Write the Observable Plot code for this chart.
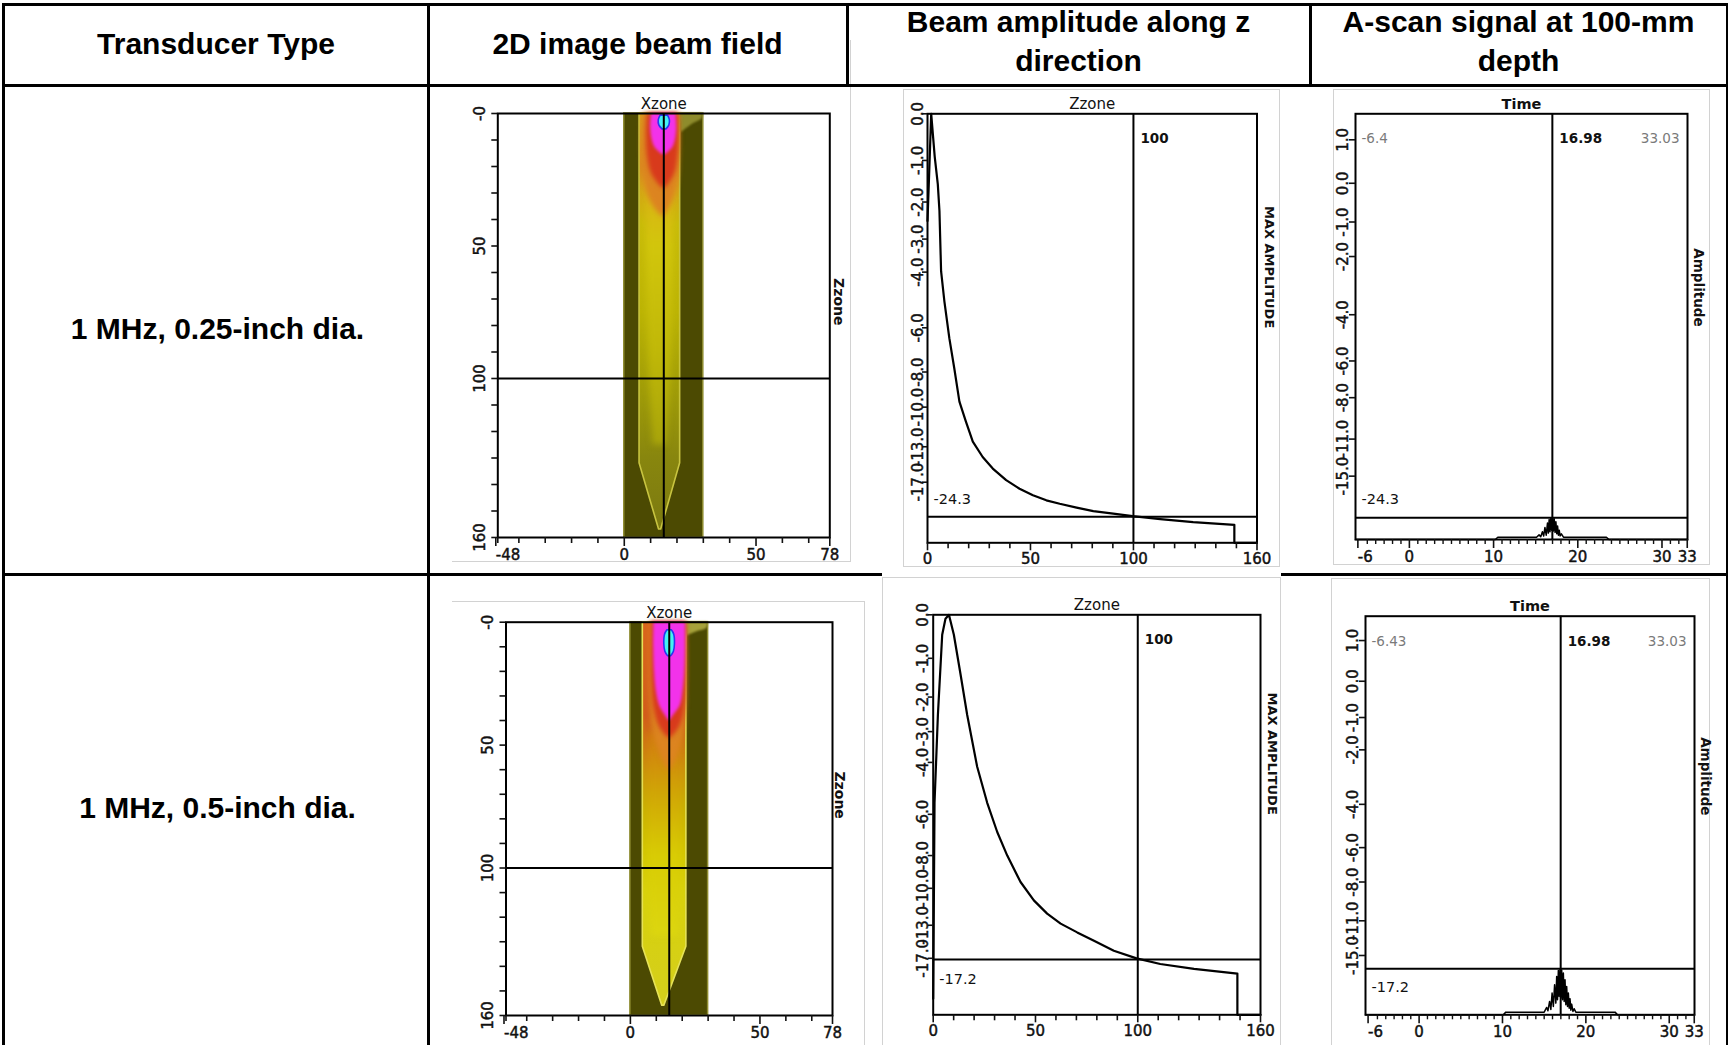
<!DOCTYPE html>
<html>
<head>
<meta charset="utf-8">
<script src="https://cdn.jsdelivr.net/npm/d3@7"></script>
<script src="https://cdn.jsdelivr.net/npm/@observablehq/plot@0.6"></script>
<style>
  html, body { margin: 0; padding: 0; background: #fff; }
  #page { position: relative; width: 1730px; height: 1045px; overflow: hidden; background: #fff; }
  .cell { position: absolute; display: flex; flex-direction: column; align-items: center; justify-content: center;
          font-family: "Liberation Sans", Arial, sans-serif; font-weight: bold; font-size: 30px; line-height: 38.5px;
          color: #000; text-align: center; white-space: nowrap; }
  .rule { position: absolute; background: #000; }
  .shot { position: absolute; background: #fff; box-sizing: border-box; border-style: solid; border-color: #d2d2d2; }
  svg.chart { position: absolute; overflow: visible; }
  svg.chart g[aria-label$="tick label"] { stroke: #111; stroke-width: 0.45px; }
</style>
</head>
<body>
<div id="page"></div>
<script>
// ---------------- table text ----------------
const headerLines = [["Transducer Type"], ["2D image beam field"], ["Beam amplitude along z", "direction"], ["A-scan signal at 100-mm", "depth"]];
const rowLabels = ["1 MHz, 0.25-inch dia.", "1 MHz, 0.5-inch dia."];

// ---------------- 2D beam field (Xzone x Zzone) ----------------
const fieldXFirst = [-48];
const fieldXTicks = [0, 50, 78];
const fieldXMinor = [-48, -40, -30, -20, -10, 10, 20, 30, 40, 60, 70];
const fieldZTicks = [0, 50, 100, 160];
const fieldZLabels = ["-0", "50", "100", "160"];
const fieldZMinor = [10, 20, 30, 40, 60, 70, 80, 90, 110, 120, 130, 140, 150];
const simZone = [{x1: 0, x2: 30, z1: 0, z2: 160}];
const fieldCursorX = 15, fieldCursorZ = 100;

// row 1 (0.25-inch): contour profiles {z, a: left x, b: right x}
const band1 = [{z: 0, a: 5.8, b: 21.2}, {z: 132, a: 5.8, b: 21.2}, {z: 157, a: 13.2, b: 14.0}];
const band1Colors = [[0, "#d8a01a"], [20, "#da8a1e"], [30, "#d4a814"], [42, "#c9bc08"], [75, "#bcb404"], [105, "#a09c08"], [130, "#88860e"], [157, "#7c7a10"]];
const core1 = [{z: 24, a: 8.5, b: 18.5}, {z: 60, a: 8.5, b: 18.5}, {z: 100, a: 9.5, b: 17.5}, {z: 125, a: 11, b: 16}];
const core1Colors = [[24, "#dcae18"], [50, "#d2c60c"], [90, "#c0b808"], [125, "#a8a40a"]];
const lobe1 = [{z: 0, a: 21, b: 30}, {z: 2, a: 21, b: 29.5}, {z: 4, a: 21.3, b: 26}, {z: 7, a: 21.3, b: 22}];
const glow1 = [{z: 0, a: 7, b: 21}, {z: 16, a: 6.8, b: 21}, {z: 28, a: 8, b: 20}, {z: 35, a: 11, b: 17.5}, {z: 39, a: 14.5, b: 15}];
const halo1 = [{z: 0, a: 8.8, b: 20.6}, {z: 8, a: 8.4, b: 20.8}, {z: 16, a: 8.8, b: 20.4}, {z: 23, a: 10.5, b: 19}, {z: 28, a: 14.2, b: 15.8}];
const magenta1 = [{z: 0, a: 10.4, b: 19.6}, {z: 5, a: 10, b: 19.9}, {z: 10, a: 10.6, b: 19.4}, {z: 13, a: 11.8, b: 18.3}, {z: 15.5, a: 14.5, b: 15.6}];
const cyan1 = [{z: 0.8, a: 13.8, b: 16.6}, {z: 2.5, a: 13.1, b: 17.3}, {z: 4.5, a: 13.3, b: 17.1}, {z: 6, a: 14.5, b: 16}];

// row 2 (0.5-inch)
const band2 = [{z: 0, a: 4.8, b: 21.6}, {z: 132, a: 4.8, b: 21.6}, {z: 156, a: 12.3, b: 13.1}];
const band2Colors = [[0, "#d8641c"], [38, "#d25c1a"], [50, "#ce7812"], [62, "#ca960a"], [76, "#cab002"], [92, "#d2c400"], [110, "#d8d20c"], [156, "#d4ce1c"]];
const core2 = [{z: 45, a: 7, b: 19.5}, {z: 100, a: 7, b: 19.5}, {z: 128, a: 8, b: 18.5}];
const core2Colors = [[45, "#d27a10"], [70, "#d0a606"], [95, "#d8cc04"], [128, "#dcd610"]];
const lobe2 = [{z: 0, a: 21, b: 30}, {z: 2.5, a: 21.2, b: 29.5}, {z: 4, a: 21.5, b: 25.5}, {z: 5.5, a: 21.6, b: 22}];
const glow2 = [{z: 0, a: 7.5, b: 21.6}, {z: 30, a: 7.5, b: 21.6}, {z: 45, a: 9, b: 20.5}, {z: 55, a: 12, b: 18}, {z: 60, a: 14.5, b: 15.5}];
const halo2 = [{z: 0, a: 8.3, b: 21.6}, {z: 25, a: 8.3, b: 21.5}, {z: 36, a: 9.3, b: 20.8}, {z: 43, a: 11.5, b: 18.8}, {z: 47, a: 14.5, b: 15.6}];
const magenta2 = [{z: 0, a: 9.1, b: 21.3}, {z: 10, a: 9, b: 21.3}, {z: 20, a: 9.3, b: 21}, {z: 28, a: 10, b: 20.3}, {z: 34, a: 11.3, b: 19.2}, {z: 38, a: 13.5, b: 16.6}, {z: 40, a: 14.8, b: 15.3}];
const cyan2 = [{z: 3.3, a: 14.3, b: 16}, {z: 5, a: 13.4, b: 16.9}, {z: 9, a: 13.1, b: 17.2}, {z: 12, a: 13.5, b: 16.8}, {z: 13.8, a: 14.5, b: 15.8}];

// ---------------- beam amplitude along z (MAX AMPLITUDE vs Zzone) ----------------
const ampTicksDb = [0, -1, -2, -3, -4, -6, -8, -10, -13, -17];
const beamZTicks = [0, 50, 100, 160];
const beamZMinor = [10, 20, 30, 40, 60, 70, 80, 90, 110, 120, 130, 140, 150];
const beamCursorZ = 100;
const amp1 = [[0, 0.75], [0.8, 0.86], [1.8, 1.0], [3.5, 0.9], [5, 0.836], [5.8, 0.774], [6.6, 0.633], [8.2, 0.563], [10.6, 0.477], [13, 0.407], [15.5, 0.329], [18.7, 0.282], [22, 0.236], [26.8, 0.2], [31.7, 0.173], [38.2, 0.146], [44.7, 0.126], [51.2, 0.111], [57.7, 0.099], [64.2, 0.091], [72.4, 0.082], [80.5, 0.074], [90.2, 0.068], [99.6, 0.062], [113, 0.055], [129, 0.048], [149, 0.042], [149, 0], [160, 0]];
const amp2 = [[0, 0.04], [0.65, 0.53], [2.3, 0.75], [4.4, 0.95], [6, 0.99], [7.7, 1.0], [10.1, 0.95], [13.4, 0.85], [16.6, 0.75], [21.5, 0.62], [26.4, 0.53], [31.3, 0.457], [36.2, 0.398], [42.7, 0.332], [49.2, 0.286], [55.7, 0.253], [62.3, 0.228], [70.4, 0.206], [78.6, 0.185], [88.3, 0.16], [99.4, 0.141], [111, 0.127], [127.5, 0.115], [148.7, 0.103], [148.7, 0], [160, 0]];
const beamLevelDb = [-24.3, -17.2];
const beamLevelLabels = ["-24.3", "-17.2"];

// ---------------- A-scan (Amplitude vs Time) ----------------
const scanTicksDb = [1, 0, -1, -2, -4, -6, -8, -11, -15];
const timeFirst = [-6];
const timeTicks = [0, 10, 20, 30, 33];
const timeMinor = [-5, -4, -3, -2, -1, 1, 2, 3, 4, 5, 6, 7, 8, 9, 11, 12, 13, 14, 15, 16, 17, 18, 19, 21, 22, 23, 24, 25, 26, 27, 28, 29, 31, 32];
const scanDomains = [[-6.4, 33.03], [-6.43, 33.03]];
const scanCursorT = 16.98;
const scanCornerLabels = [["-6.4", "16.98", "33.03"], ["-6.43", "16.98", "33.03"]];
const scanAmpMax = 1.195;
const scan1 = [[-6.4, 0], [10.2, 0], [10.5, 0.0065], [15.1, 0.0065], [15.4, 0.013], [15.6, 0.008], [15.8, 0.022], [15.95, 0.01], [16.1, 0.034], [16.25, 0.012], [16.4, 0.046], [16.5, 0.018], [16.6, 0.056], [16.7, 0.022], [16.8, 0.061], [16.9, 0.026], [17.0, 0.06], [17.1, 0.024], [17.2, 0.058], [17.3, 0.02], [17.4, 0.05], [17.5, 0.016], [17.6, 0.038], [17.7, 0.012], [17.8, 0.026], [17.9, 0.01], [18.05, 0.016], [18.3, 0.0065], [23.4, 0.0065], [23.7, 0], [33.03, 0]];
const scan2 = [[-6.43, 0], [10.1, 0], [10.4, 0.008], [15.0, 0.008], [15.3, 0.022], [15.45, 0.012], [15.65, 0.04], [15.8, 0.016], [15.95, 0.065], [16.1, 0.025], [16.25, 0.09], [16.4, 0.035], [16.5, 0.115], [16.6, 0.045], [16.7, 0.133], [16.8, 0.055], [16.9, 0.136], [17.0, 0.05], [17.1, 0.134], [17.2, 0.045], [17.3, 0.125], [17.4, 0.04], [17.5, 0.105], [17.6, 0.03], [17.7, 0.085], [17.8, 0.025], [17.9, 0.065], [18.0, 0.02], [18.1, 0.048], [18.2, 0.014], [18.3, 0.032], [18.45, 0.01], [18.6, 0.018], [18.8, 0.008], [23.5, 0.008], [23.8, 0], [33.03, 0]];

// ---------------- layout (page pixels) ----------------
const tableRules = [
  [2, 3, 1726, 3], [2, 3, 3, 1042], [1725.5, 3, 2.5, 1042],
  [2, 84, 1726, 2.5], [427, 3, 2.5, 1042], [846, 3, 2.5, 83], [1309, 3, 2.5, 83],
  [2, 573, 880, 2.5], [1281, 573, 447, 2.5]
];
const shots = [
  {l: 452, t: 40, w: 399, h: 522, b: "0 1px 1px 0"},
  {l: 903, t: 89, w: 377, h: 478, b: "1px"},
  {l: 1333, t: 89, w: 377, h: 476, b: "1px"},
  {l: 452, t: 601, w: 413, h: 500, b: "1px 1px 0 0"},
  {l: 882, t: 577, w: 399, h: 500, b: "1px 1px 0 1px"},
  {l: 1331, t: 578, w: 379, h: 500, b: "1px 1px 0 1px"}
];
const headerCells = [{l: 5, r: 427, cy: 44}, {l: 429, r: 846, cy: 44}, {l: 848, r: 1309, cy: 41.5}, {l: 1311, r: 1726, cy: 41.5}];
const rowCells = [{l: 5, r: 430, cy: 329}, {l: 5, r: 430, cy: 808}];
const chartBoxes = {
  field1: {box: {left: 450, top: 86, width: 400, height: 486}, frame: [497.3, 113, 829.3, 537]},
  amp1: {box: {left: 880, top: 86, width: 400, height: 486}, frame: [927, 113.3, 1256.5, 542.3]},
  scan1: {box: {left: 1310, top: 86, width: 417, height: 486}, frame: [1355, 113.3, 1687, 539]},
  field2: {box: {left: 450, top: 586, width: 415, height: 459}, frame: [505.5, 621.7, 832, 1015]},
  amp2: {box: {left: 880, top: 586, width: 405, height: 459}, frame: [932.7, 614.3, 1260, 1014.3]},
  scan2: {box: {left: 1310, top: 586, width: 417, height: 459}, frame: [1365, 615.7, 1694, 1014.3]}
};

// ---------------- helpers ----------------
const page = document.getElementById("page");
const dbToAmp = db => Math.pow(10, db / 20);
const ampToDbLabel = a => (20 * Math.log10(a)).toFixed(1).replace("-0.0", "0.0");
const baseStyle = {fontFamily: "DejaVu Sans, Verdana, sans-serif", fontSize: "15px", color: "#111", background: "transparent", overflow: "visible"};

function div(cls, style, html) {
  const d = document.createElement("div");
  d.className = cls;
  Object.assign(d.style, style);
  if (html !== undefined) d.innerHTML = html;
  page.appendChild(d);
  return d;
}
function dims(c) {
  const {box, frame} = c;
  return {width: box.width, height: box.height,
    marginLeft: frame[0] - box.left, marginTop: frame[1] - box.top,
    marginRight: box.left + box.width - frame[2], marginBottom: box.top + box.height - frame[3]};
}
function place(svg, c) {
  svg.classList.add("chart");
  svg.style.left = c.box.left + "px";
  svg.style.top = c.box.top + "px";
  page.appendChild(svg);
}
function addGradient(svg, id, stops, z0, z1) {
  let defs = svg.querySelector("defs");
  if (!defs) defs = d3.select(svg).insert("defs", ":first-child").node();
  const g = d3.select(defs).append("linearGradient").attr("id", id).attr("x1", 0).attr("y1", 0).attr("x2", 0).attr("y2", 1);
  for (const [z, c] of stops) g.append("stop").attr("offset", (z - z0) / (z1 - z0)).attr("stop-color", c);
}

// ---------------- table ----------------
for (const s of shots) div("shot", {left: s.l + "px", top: s.t + "px", width: s.w + "px", height: s.h + "px", borderWidth: s.b});
for (const [l, t, w, h] of tableRules) div("rule", {left: l + "px", top: t + "px", width: w + "px", height: h + "px"});
headerCells.forEach((c, i) => div("cell", {left: c.l + "px", width: (c.r - c.l) + "px", top: (c.cy - 40) + "px", height: "80px"},
  headerLines[i].map(t => `<span>${t}</span>`).join("")));
rowCells.forEach((c, i) => div("cell", {left: c.l + "px", width: (c.r - c.l) + "px", top: (c.cy - 40) + "px", height: "80px"},
  `<span>${rowLabels[i]}</span>`));

// ---------------- charts ----------------
function fieldChart(id, c, f) {
  const A = {y: "z", x1: "a", x2: "b"};
  const svg = Plot.plot({
    ...dims(c), style: baseStyle,
    x: {domain: [-48, 78], axis: null},
    y: {domain: [0, 160], reverse: true, axis: null},
    marks: [
      Plot.rect(simZone, {x1: "x1", x2: "x2", y1: "z1", y2: "z2", fill: "#4c4a02", stroke: "#8e8c30", strokeWidth: 1.5}),
      Plot.areaX(f.band, {...A, fill: `url(#${id}-band)`, stroke: f.edge, strokeWidth: 1.6}),
      Plot.areaX(f.core, {...A, fill: `url(#${id}-core)`, curve: "catmull-rom"}),
      Plot.areaX(f.lobe, {...A, fill: f.lobeColor, curve: "catmull-rom"}),
      Plot.areaX(f.glow, {...A, fill: "#dc8420", curve: "catmull-rom"}),
      Plot.areaX(f.halo, {...A, fill: "#d83a1c", curve: "catmull-rom"}),
      Plot.areaX(f.magenta, {...A, fill: "#f232ea", curve: "catmull-rom"}),
      Plot.areaX(f.cyan, {...A, fill: "#44f2f2", stroke: "#2838f0", strokeWidth: 1.6, curve: "catmull-rom"}),
      Plot.ruleX([fieldCursorX], {stroke: "#000", strokeWidth: 2}),
      Plot.ruleY([fieldCursorZ], {stroke: "#000", strokeWidth: 2}),
      Plot.frame({stroke: "#000", strokeWidth: 2}),
      Plot.axisX({ticks: fieldXMinor, tickSize: 6, fill: "none", label: null, strokeWidth: 1.6}),
      Plot.axisX({ticks: fieldXFirst, tickSize: 9, tickPadding: 3, textAnchor: "start", dx: -2, tickFormat: d => String(d), label: null, strokeWidth: 1.6}),
      Plot.axisX({ticks: fieldXTicks, tickSize: 9, tickPadding: 3, tickFormat: d => String(d), label: null, strokeWidth: 1.6}),
      Plot.axisY({ticks: fieldZMinor, tickSize: 6, fill: "none", label: null, strokeWidth: 1.6}),
      Plot.axisY({ticks: fieldZTicks, tickSize: 6, tickPadding: 7, tickRotate: -90, tickFormat: d => fieldZLabels[fieldZTicks.indexOf(d)], label: null, strokeWidth: 1.6}),
      Plot.text(["Xzone"], {text: d => d, frameAnchor: "top", dy: -15, fontSize: 15}),
      Plot.text(["Zzone"], {text: d => d, frameAnchor: "right", dx: f.zLabelDx, rotate: 90, fontSize: 14, fontWeight: "bold"})
    ]
  });
  addGradient(svg, `${id}-band`, f.colors, f.band[0].z, f.band[f.band.length - 1].z);
  addGradient(svg, `${id}-core`, f.coreColors, f.core[0].z, f.core[f.core.length - 1].z);
  const blurs = [0.6, 3, 1, 2.5, 2, 1.5, 0.6];
  svg.querySelectorAll('g[aria-label="area"]').forEach((g, i) => { g.style.filter = `blur(${blurs[i]}px)`; });
  place(svg, c);
}

function ampChart(c, curve, k, dyLevel) {
  const lvl = dbToAmp(beamLevelDb[k]);
  const svg = Plot.plot({
    ...dims(c), style: baseStyle,
    x: {domain: [0, 160], axis: null},
    y: {domain: [0, 1], axis: null},
    marks: [
      Plot.ruleX([beamCursorZ], {stroke: "#000", strokeWidth: 2}),
      Plot.ruleY([lvl], {stroke: "#000", strokeWidth: 2}),
      Plot.line(curve, {x: d => d[0], y: d => d[1], stroke: "#000", strokeWidth: 2.2}),
      Plot.frame({stroke: "#000", strokeWidth: 2}),
      Plot.axisX({ticks: beamZMinor, tickSize: 6, fill: "none", label: null, strokeWidth: 1.6}),
      Plot.axisX({ticks: beamZTicks, tickSize: 8, tickPadding: 3, tickFormat: d => String(d), label: null, strokeWidth: 1.6}),
      Plot.axisY({ticks: ampTicksDb.map(dbToAmp), tickSize: 5, tickPadding: 0, tickRotate: -90, tickFormat: ampToDbLabel, label: null, strokeWidth: 1.6}),
      Plot.text(["Zzone"], {text: d => d, frameAnchor: "top", dy: -15, fontSize: 15}),
      Plot.text(["MAX AMPLITUDE"], {text: d => d, frameAnchor: "right", dx: 12, rotate: 90, fontSize: 13, fontWeight: "bold"}),
      Plot.text([String(beamCursorZ)], {text: d => d, x: beamCursorZ, frameAnchor: "top", dy: 20, dx: 7, textAnchor: "start", fontSize: 13.5, fontWeight: "bold"}),
      Plot.text([beamLevelLabels[k]], {text: d => d, y: lvl, frameAnchor: "left", dx: 6, dy: dyLevel, textAnchor: "start", fontSize: 14.5})
    ]
  });
  place(svg, c);
}

function scanChart(c, wave, k, dyLevel) {
  const lvl = dbToAmp(beamLevelDb[k]);
  const [lbL, lbC, lbR] = scanCornerLabels[k];
  const svg = Plot.plot({
    ...dims(c), style: baseStyle,
    x: {domain: scanDomains[k], axis: null},
    y: {domain: [0, scanAmpMax], axis: null},
    marks: [
      Plot.ruleX([scanCursorT], {stroke: "#000", strokeWidth: 2}),
      Plot.ruleY([lvl], {stroke: "#000", strokeWidth: 2}),
      Plot.line(wave, {x: d => d[0], y: d => d[1], stroke: "#000", strokeWidth: 1.5}),
      Plot.frame({stroke: "#000", strokeWidth: 2}),
      Plot.axisX({ticks: timeMinor, tickSize: 5, fill: "none", label: null, strokeWidth: 1.4}),
      Plot.axisX({ticks: timeFirst, tickSize: 9, tickPadding: 3, textAnchor: "start", dx: -1, tickFormat: d => String(d), label: null, strokeWidth: 1.6}),
      Plot.axisX({ticks: timeTicks, tickSize: 9, tickPadding: 3, tickFormat: d => String(d), label: null, strokeWidth: 1.6}),
      Plot.axisY({ticks: scanTicksDb.map(dbToAmp), tickSize: 6, tickPadding: 2, tickRotate: -90, tickFormat: ampToDbLabel, label: null, strokeWidth: 1.6}),
      Plot.text(["Time"], {text: d => d, frameAnchor: "top", dy: -15, fontSize: 14.5, fontWeight: "bold"}),
      Plot.text(["Amplitude"], {text: d => d, frameAnchor: "right", dx: 11, rotate: 90, fontSize: 13.5, fontWeight: "bold"}),
      Plot.text([lbL], {text: d => d, frameAnchor: "top-left", dx: 6, dy: 20, textAnchor: "start", fontSize: 13.5, fill: "#7a7a7a"}),
      Plot.text([lbC], {text: d => d, x: scanCursorT, frameAnchor: "top", dx: 7, dy: 20, textAnchor: "start", fontSize: 13.5, fontWeight: "bold"}),
      Plot.text([lbR], {text: d => d, frameAnchor: "top-right", dx: -8, dy: 20, textAnchor: "end", fontSize: 13.5, fill: "#7a7a7a"}),
      Plot.text([beamLevelLabels[k]], {text: d => d, y: lvl, frameAnchor: "left", dx: 6, dy: dyLevel, textAnchor: "start", fontSize: 14.5})
    ]
  });
  place(svg, c);
}

fieldChart("f1", chartBoxes.field1, {band: band1, colors: band1Colors, core: core1, coreColors: core1Colors, edge: "#c8c440", lobe: lobe1, lobeColor: "#8e8c2c", glow: glow1, halo: halo1, magenta: magenta1, cyan: cyan1, zLabelDx: 9});
ampChart(chartBoxes.amp1, amp1, 0, -17);
scanChart(chartBoxes.scan1, scan1, 0, -18);
fieldChart("f2", chartBoxes.field2, {band: band2, colors: band2Colors, core: core2, coreColors: core2Colors, edge: "#e6e258", lobe: lobe2, lobeColor: "#a6a23a", glow: glow2, halo: halo2, magenta: magenta2, cyan: cyan2, zLabelDx: 7});
ampChart(chartBoxes.amp2, amp2, 1, 20);
scanChart(chartBoxes.scan2, scan2, 1, 19);
</script>
</body>
</html>
